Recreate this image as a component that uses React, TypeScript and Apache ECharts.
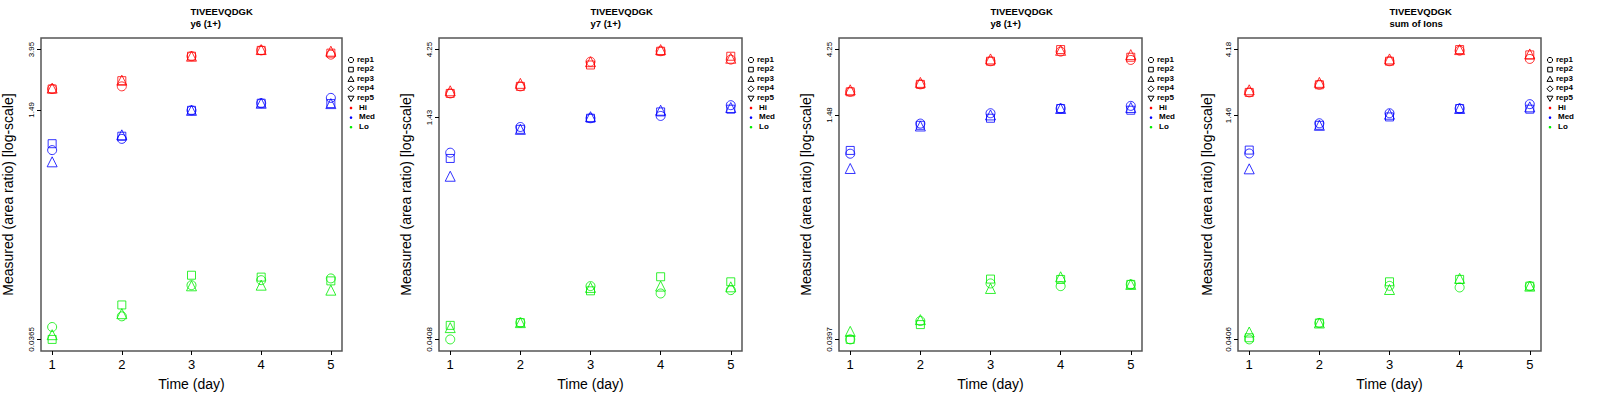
import React, { useEffect, useRef } from "react";
import * as echarts from "echarts";

const days = [1, 2, 3, 4, 5];
const titles = ["TIVEEVQDGK", "TIVEEVQDGK", "TIVEEVQDGK", "TIVEEVQDGK"];
const subtitles = ["y6 (1+)", "y7 (1+)", "y8 (1+)", "sum of Ions"];
const tickLabels = [
  ["0.0365", "1.49", "3.95"],
  ["0.0408", "1.43", "4.25"],
  ["0.0397", "1.48", "4.25"],
  ["0.0406", "1.46", "4.18"],
];
// [panel][rep1, rep2, rep3][day]
const hiValues = [
  [[2.09, 2.18, 3.55, 3.9, 3.64], [2.09, 2.39, 3.55, 3.9, 3.73], [2.12, 2.41, 3.55, 3.95, 3.85]],
  [[2.105, 2.357, 3.5, 4.14, 3.62], [2.105, 2.357, 3.32, 4.14, 3.82], [2.196, 2.474, 3.5, 4.25, 3.7]],
  [[2.151, 2.426, 3.522, 4.114, 3.597], [2.151, 2.426, 3.522, 4.25, 3.758], [2.222, 2.505, 3.656, 4.2, 3.92]],
  [[2.108, 2.382, 3.47, 4.11, 3.6], [2.108, 2.382, 3.47, 4.18, 3.84], [2.198, 2.475, 3.6, 4.18, 3.9]],
];
const medValues = [
  [[0.778, 0.933, 1.48, 1.66, 1.81], [0.863, 0.974, 1.48, 1.66, 1.65], [0.644, 0.996, 1.48, 1.66, 1.65]],
  [[0.814, 1.229, 1.414, 1.467, 1.743], [0.742, 1.184, 1.414, 1.565, 1.635], [0.558, 1.184, 1.45, 1.608, 1.68]],
  [[0.793, 1.289, 1.523, 1.644, 1.715], [0.836, 1.254, 1.405, 1.644, 1.599], [0.625, 1.24, 1.482, 1.644, 1.671]],
  [[0.794, 1.287, 1.511, 1.63, 1.747], [0.838, 1.246, 1.424, 1.63, 1.612], [0.621, 1.246, 1.487, 1.63, 1.673]],
];
const loValues = [
  [[0.0446, 0.053, 0.0877, 0.0951, 0.0978], [0.0365, 0.0637, 0.103, 0.0999, 0.094], [0.0394, 0.0553, 0.0868, 0.0877, 0.0809]],
  [[0.0408, 0.0534, 0.0959, 0.0852, 0.0899], [0.0511, 0.0534, 0.0889, 0.1114, 0.1027], [0.0493, 0.0534, 0.0939, 0.0959, 0.0948]],
  [[0.0397, 0.0534, 0.0979, 0.0937, 0.0964], [0.0397, 0.0504, 0.105, 0.1044, 0.0964], [0.0452, 0.0546, 0.0903, 0.109, 0.0964]],
  [[0.0406, 0.0528, 0.0956, 0.0932, 0.0952], [0.0417, 0.0528, 0.102, 0.106, 0.0952], [0.0457, 0.0528, 0.0902, 0.1077, 0.0952]],
];
const repNames = ["rep1", "rep2", "rep3", "rep4", "rep5"];
const groupNames = ["Hi", "Med", "Lo"];
const groupColors = ["#ff0000", "#0000ff", "#00ee00"];

const boxLefts = [39, 439, 839, 1238];
const boxWidth = 303;
const boxTop = 38;
const boxHeight = 313;
const FONT = "Liberation Sans, Arial, sans-serif";

const symbols = ["circle", "rect", "triangle"];
const symbolSizes = [9, 8, 10];

function buildOption() {
  const grids: any[] = [];
  const xAxes: any[] = [];
  const yAxes: any[] = [];
  const series: any[] = [];
  const graphics: any[] = [];
  boxLefts.forEach((left, p) => {
    const ticks = tickLabels[p].map((t) => Math.log10(parseFloat(t)));
    const span = ticks[2] - ticks[0];
    grids.push({ left, top: boxTop, width: boxWidth, height: boxHeight, show: true, borderColor: "#555", borderWidth: 1.5, backgroundColor: "transparent" });
    xAxes.push({
      type: "value", gridIndex: p, min: 0.84, max: 5.16, position: "bottom",
      axisLine: { show: false, onZero: false }, splitLine: { show: false },
      axisTick: { show: true, customValues: days, length: 4, inside: false, lineStyle: { color: "#000" } },
      axisLabel: { customValues: days, fontSize: 13, color: "#000", fontFamily: FONT, margin: 7 },
      name: "Time (day)", nameLocation: "middle", nameGap: 26, nameTextStyle: { fontSize: 14, color: "#000", fontFamily: FONT },
    });
    yAxes.push({
      type: "value", gridIndex: p, min: ticks[0] - 0.04 * span, max: ticks[2] + 0.04 * span, position: "left",
      axisLine: { show: false, onZero: false }, splitLine: { show: false },
      axisTick: { show: true, customValues: ticks, length: 4, lineStyle: { color: "#000" } },
      axisLabel: {
        customValues: ticks, rotate: 90, fontSize: 8, color: "#000", fontFamily: FONT, margin: 6,
        formatter: (v: number) => {
          let best = 0;
          ticks.forEach((t, i) => { if (Math.abs(t - v) < Math.abs(ticks[best] - v)) best = i; });
          return tickLabels[p][best];
        },
      },
      name: "Measured (area ratio) [log-scale]", nameLocation: "middle", nameGap: p === 3 ? 24 : 26,
      nameTextStyle: { fontSize: 14, color: "#000", fontFamily: FONT },
    });
    [hiValues, medValues, loValues].forEach((grp, g) => {
      grp[p].forEach((vals, r) => {
        series.push({
          type: "scatter", name: `p${p}-${groupNames[g]}-${repNames[r]}`,
          xAxisIndex: p, yAxisIndex: p,
          symbol: symbols[r], symbolSize: symbolSizes[r],
          itemStyle: { color: "transparent", borderColor: groupColors[g], borderWidth: 1 },
          emphasis: { disabled: true },
          data: vals.map((v, i) => [days[i], Math.log10(v)]),
        });
      });
    });
    const cx = left + boxWidth / 2;
    graphics.push({ type: "text", left: cx, top: 6, style: { text: titles[p], font: `bold 9.5px ${FONT}`, fill: "#000", textAlign: "center" } });
    graphics.push({ type: "text", left: cx, top: 18, style: { text: subtitles[p], font: `bold 9.5px ${FONT}`, fill: "#000", textAlign: "center" } });
    // legend
    const lx = left + boxWidth + 9;
    const ly0 = 60;
    const gap = 9.6;
    const st = { fill: "none", stroke: "#000", lineWidth: 1 };
    graphics.push({ type: "circle", shape: { cx: lx, cy: ly0, r: 2.6 }, style: st });
    graphics.push({ type: "rect", shape: { x: lx - 2.3, y: ly0 + gap - 2.3, width: 4.6, height: 4.6 }, style: st });
    graphics.push({ type: "polygon", shape: { points: [[lx, ly0 + 2 * gap - 3], [lx - 3, ly0 + 2 * gap + 2.2], [lx + 3, ly0 + 2 * gap + 2.2]] }, style: st });
    graphics.push({ type: "polygon", shape: { points: [[lx, ly0 + 3 * gap - 3], [lx + 3, ly0 + 3 * gap], [lx, ly0 + 3 * gap + 3], [lx - 3, ly0 + 3 * gap]] }, style: st });
    graphics.push({ type: "polygon", shape: { points: [[lx, ly0 + 4 * gap + 3], [lx - 3, ly0 + 4 * gap - 2.2], [lx + 3, ly0 + 4 * gap - 2.2]] }, style: st });
    repNames.forEach((n, i) => {
      graphics.push({ type: "text", left: lx + 6, top: ly0 + i * gap - 5, style: { text: n, font: `bold 8px ${FONT}`, fill: "#000" } });
    });
    groupNames.forEach((n, i) => {
      const y = ly0 + (5 + i) * gap;
      graphics.push({ type: "circle", shape: { cx: lx, cy: y, r: 1.3 }, style: { fill: groupColors[i] } });
      graphics.push({ type: "text", left: lx + 8, top: y - 5, style: { text: n, font: `bold 8px ${FONT}`, fill: "#000" } });
    });
  });
  return { animation: false, backgroundColor: "#fff", grid: grids, xAxis: xAxes, yAxis: yAxes, series, graphic: graphics };
}

export default function App() {
  const ref = useRef<HTMLDivElement>(null);
  useEffect(() => {
    if (!ref.current) return;
    const chart = echarts.init(ref.current, undefined, { renderer: "svg" });
    chart.setOption(buildOption() as any);
    return () => chart.dispose();
  }, []);
  return <div ref={ref} style={{ position: "fixed", left: 0, top: 0, width: 1600, height: 400, background: "#fff" }} />;
}
